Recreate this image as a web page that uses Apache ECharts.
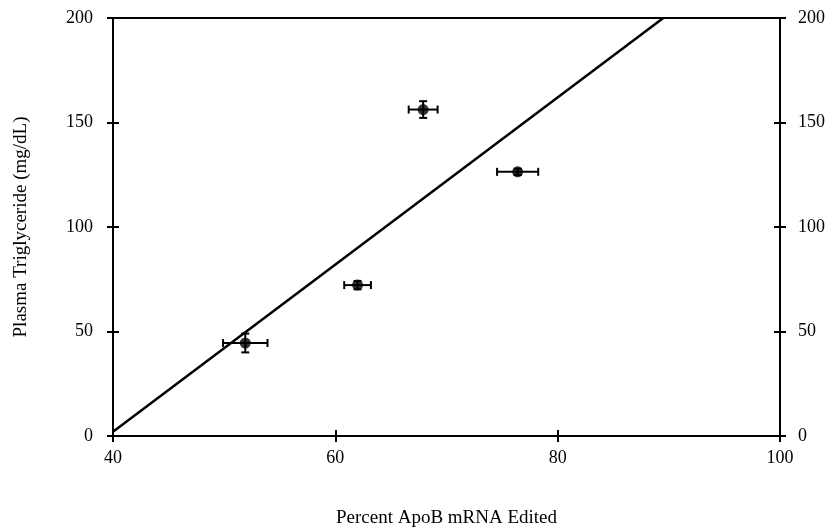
<!DOCTYPE html>
<html>
<head>
<meta charset="utf-8">
<script src="https://cdn.jsdelivr.net/npm/echarts@6/dist/echarts.min.js"></script>
<style>
  html, body { margin: 0; padding: 0; background: #fff; }
  #chart { width: 832px; height: 530px; }
</style>
</head>
<body>
<div id="chart"></div>
<script>
// percent ApoB mRNA edited vs plasma triglyceride
var editPct = [51.9, 62.0, 67.9, 76.4];
var trigVals = [44.5, 72.2, 156.2, 126.4];
var editErr = [2.0, 1.2, 1.3, 1.85];
var trigErr = [4.5, 2.0, 4.0, 1.5];
// regression line end points
var fitLine = [[40, 2], [89.5, 200]];

var font = "Liberation Serif";
var chart = echarts.init(document.getElementById("chart"));

function xAx(opt) {
  return Object.assign({
    type: "value", min: 40, max: 100, interval: 20, position: "bottom", offset: 0,
    axisLine: { show: true, lineStyle: { color: "#000", width: 2 } },
    axisTick: { show: true, length: 6, lineStyle: { color: "#000", width: 2 } },
    axisLabel: { show: false },
    splitLine: { show: false }
  }, opt);
}
function yAx(opt) {
  return Object.assign({
    type: "value", min: 0, max: 200, interval: 50, position: "left", offset: 0,
    axisLine: { show: true, lineStyle: { color: "#000", width: 2 } },
    axisTick: { show: true, length: 6, lineStyle: { color: "#000", width: 2 } },
    axisLabel: { show: false },
    splitLine: { show: false }
  }, opt);
}

var lbl = { fontFamily: font, fontSize: 18, color: "#000" };

var option = {
  animation: false,
  backgroundColor: "#fff",
  textStyle: { fontFamily: font, color: "#000" },
  grid: {
    left: 113, right: 52, top: 18, bottom: 94, containLabel: false, outerBoundsMode: "none",
    show: true, borderColor: "#000", borderWidth: 2, backgroundColor: "transparent"
  },
  xAxis: [
    xAx({
      name: "Percent ApoB mRNA Edited", nameLocation: "middle", nameGap: 73,
      nameTextStyle: { fontFamily: font, fontSize: 19, color: "#000" },
      axisLabel: Object.assign({ show: true, margin: 13 }, lbl)
    }),
    xAx({ axisTick: { show: true, inside: true, length: 6, lineStyle: { color: "#000", width: 2 } } })
  ],
  yAxis: [
    yAx({
      name: "Plasma Triglyceride (mg/dL)", nameLocation: "middle", nameGap: 82,
      nameTextStyle: { fontFamily: font, fontSize: 19, color: "#000" },
      axisLabel: Object.assign({ show: true, margin: 20 }, lbl)
    }),
    yAx({ axisTick: { show: true, inside: true, length: 6, lineStyle: { color: "#000", width: 2 } } }),
    yAx({
      position: "right",
      axisLabel: Object.assign({ show: true, margin: 18, align: "left" }, lbl)
    }),
    yAx({ position: "right", axisTick: { show: true, inside: true, length: 6, lineStyle: { color: "#000", width: 2 } } })
  ],
  series: [
    {
      type: "line",
      data: fitLine,
      symbol: "none",
      lineStyle: { color: "#000", width: 2.5 },
      z: 3
    },
    {
      type: "custom",
      data: editPct.map(function (x, i) { return [x, trigVals[i], editErr[i], trigErr[i]]; }),
      renderItem: function (params, api) {
        var x = api.value(0), y = api.value(1), ex = api.value(2), ey = api.value(3);
        var l = api.coord([x - ex, y]), r = api.coord([x + ex, y]);
        var t = api.coord([x, y + ey]), b = api.coord([x, y - ey]);
        var st = { stroke: "#000", lineWidth: 2 };
        var c = 4;
        return {
          type: "group",
          children: [
            { type: "line", shape: { x1: l[0], y1: l[1], x2: r[0], y2: r[1] }, style: st },
            { type: "line", shape: { x1: l[0], y1: l[1] - c, x2: l[0], y2: l[1] + c }, style: st },
            { type: "line", shape: { x1: r[0], y1: r[1] - c, x2: r[0], y2: r[1] + c }, style: st },
            { type: "line", shape: { x1: t[0], y1: t[1], x2: b[0], y2: b[1] }, style: st },
            { type: "line", shape: { x1: t[0] - c, y1: t[1], x2: t[0] + c, y2: t[1] }, style: st },
            { type: "line", shape: { x1: b[0] - c, y1: b[1], x2: b[0] + c, y2: b[1] }, style: st }
          ]
        };
      },
      z: 4
    },
    {
      type: "scatter",
      data: editPct.map(function (x, i) { return [x, trigVals[i]]; }),
      symbol: "circle",
      symbolSize: 11,
      itemStyle: { color: "#000" },
      z: 5
    }
  ]
};
chart.setOption(option);
</script>
</body>
</html>
